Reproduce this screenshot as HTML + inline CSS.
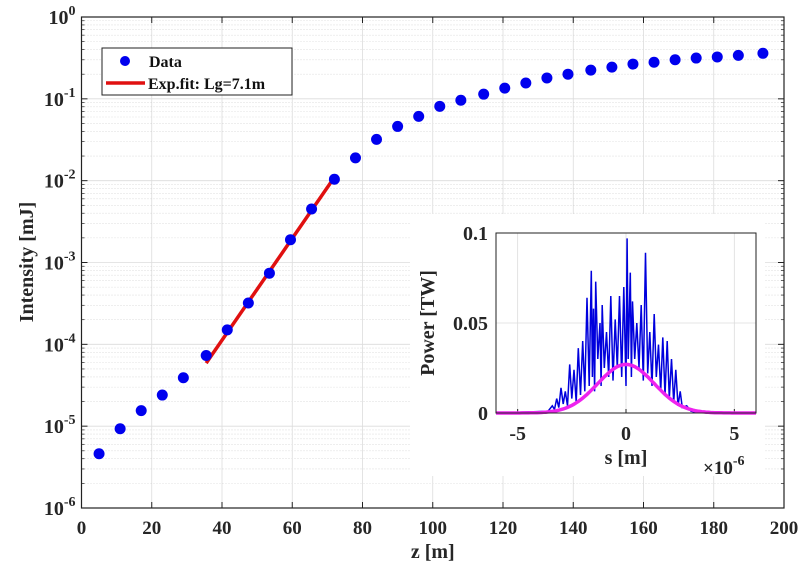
<!DOCTYPE html>
<html><head><meta charset="utf-8"><style>
html,body{margin:0;padding:0;background:#fff;}
svg{display:block;font-family:"Liberation Serif",serif;font-weight:bold;}
</style></head><body>
<svg id="c" width="805" height="575" viewBox="0 0 805 575" xmlns="http://www.w3.org/2000/svg"></svg>
<script>
const zData=[5,11,17,23,29,35.5,41.5,47.5,53.5,59.5,65.5,72,78,84,90,96,102,108,114.5,120.5,126.5,132.5,138.5,145,151,157,163,169,175,181,187,194];
const intensity=[4.6e-6,9.3e-6,1.55e-5,2.4e-5,3.9e-5,7.3e-5,1.5e-4,3.2e-4,7.4e-4,1.9e-3,4.5e-3,1.04e-2,0.019,0.032,0.046,0.061,0.081,0.096,0.114,0.135,0.156,0.18,0.20,0.224,0.244,0.266,0.28,0.30,0.315,0.325,0.34,0.36];
const fitZ=[35.5,72];
const fitI=[5.9e-5,1.1e-2];
const xTicks=[0,20,40,60,80,100,120,140,160,180,200];
const yExps=[0,-1,-2,-3,-4,-5,-6];
// inset
const sVals=[-6,-3.6,-3.4,-3.3,-3.2,-3.1,-3.0,-2.9,-2.8,-2.7,-2.6,-2.5,-2.4,-2.3,-2.2,-2.1,-2.0,-1.9,-1.8,-1.7,-1.6,-1.55,-1.5,-1.45,-1.4,-1.3,-1.2,-1.15,-1.1,-1.0,-0.9,-0.8,-0.7,-0.6,-0.5,-0.4,-0.3,-0.2,-0.1,0,0.05,0.1,0.2,0.25,0.3,0.4,0.5,0.6,0.7,0.8,0.9,1.0,1.1,1.2,1.3,1.4,1.5,1.6,1.7,1.8,1.9,2.0,2.1,2.2,2.3,2.4,2.5,2.6,2.8,3.0,3.2,6];
const pVals=[0,0.001,0.004,0.002,0.008,0.003,0.014,0.005,0.012,0.004,0.027,0.008,0.024,0.006,0.036,0.01,0.04,0.012,0.064,0.015,0.079,0.02,0.058,0.012,0.073,0.03,0.05,0.015,0.06,0.025,0.045,0.02,0.065,0.018,0.052,0.025,0.065,0.02,0.07,0.015,0.097,0.03,0.078,0.02,0.062,0.03,0.05,0.025,0.06,0.018,0.089,0.022,0.045,0.015,0.055,0.02,0.038,0.012,0.042,0.01,0.04,0.008,0.03,0.006,0.024,0.004,0.012,0.003,0.004,0.001,0.0005,0];
const gaussAmp=0.027, gaussSigma=1.3;
const sTicks=[-5,0,5];
const pTicks=[0,0.05,0.1];

const svg=document.getElementById('c');
const NS='http://www.w3.org/2000/svg';
function mk(t,a,p){const e=document.createElementNS(NS,t);for(const k in a)e.setAttribute(k,a[k]);(p||svg).appendChild(e);return e;}
const L=81.5,R=784,T=17,B=508;
const X=z=>L+(z-0)/200*(R-L);
const Y=v=>T+(0-Math.log10(v))/6*(B-T);

const g=mk('g',{});

for(let e=-6;e<0;e++){for(let m=2;m<=9;m++){const y=Y(m*Math.pow(10,e));mk('line',{x1:L,x2:R,y1:y,y2:y,stroke:'#c8c8c8','stroke-width':0.6,'stroke-dasharray':'1,2'},g);}}
yExps.forEach(e=>{const y=Y(Math.pow(10,e));mk('line',{x1:L,x2:R,y1:y,y2:y,stroke:'#dcdcdc','stroke-width':0.8},g);});
xTicks.forEach(t=>{const x=X(t);mk('line',{x1:x,x2:x,y1:T,y2:B,stroke:'#dcdcdc','stroke-width':0.8},g);});

xTicks.forEach(t=>{const x=X(t);mk('line',{x1:x,x2:x,y1:B,y2:B-6,stroke:'#222'});mk('line',{x1:x,x2:x,y1:T,y2:T+6,stroke:'#222'});
 const tx=mk('text',{x:x,y:B+26,'font-size':19,'text-anchor':'middle',fill:'#262626'});tx.textContent=t;
 });
yExps.forEach(e=>{const y=Y(Math.pow(10,e));mk('line',{x1:L,x2:L+6,y1:y,y2:y,stroke:'#222'});mk('line',{x1:R,x2:R-6,y1:y,y2:y,stroke:'#222'});
 const tx=mk('text',{x:L-6,y:y+7,'font-size':20,'text-anchor':'end',fill:'#262626'});
 tx.innerHTML='10<tspan dy="-9" font-size="14">'+e+'</tspan>';
 });
for(let e=-6;e<0;e++){for(let m=2;m<=9;m++){const y=Y(m*Math.pow(10,e));mk('line',{x1:L,x2:L+3,y1:y,y2:y,stroke:'#222','stroke-width':0.7});mk('line',{x1:R,x2:R-3,y1:y,y2:y,stroke:'#222','stroke-width':0.7});}}

const ib=mk('rect',{x:410,y:214,width:355,height:262,fill:'#fff'});


const box=mk('rect',{x:L,y:T,width:R-L,height:B-T,fill:'none',stroke:'#222','stroke-width':1.2});


const fl=mk('line',{x1:X(fitZ[0]),y1:Y(fitI[0]),x2:X(fitZ[1]),y2:Y(fitI[1]),stroke:'#e01010','stroke-width':3.5});


zData.forEach((z,i)=>{const c=mk('circle',{cx:X(z),cy:Y(intensity[i]),r:5.5,fill:'#0000ee'});
 });

const xl=mk('text',{x:(L+R)/2,y:558,'font-size':20,'text-anchor':'middle',fill:'#262626'});xl.textContent='z [m]';

const yl=mk('text',{x:0,y:0,'font-size':20,'text-anchor':'middle',fill:'#262626',transform:'translate(33,262) rotate(-90)'});yl.textContent='Intensity [mJ]';


const lg=mk('g',{});
mk('rect',{x:102,y:48,width:190,height:47,fill:'#fff',stroke:'#222','stroke-width':1},lg);
mk('circle',{cx:125,cy:61,r:5,fill:'#0000ee'},lg);
mk('line',{x1:106,x2:145,y1:83,y2:83,stroke:'#e01010','stroke-width':3.5},lg);
const t1=mk('text',{x:149,y:67,'font-size':16,fill:'#111'},lg);t1.textContent='Data';

const t2=mk('text',{x:148,y:89,'font-size':16,fill:'#111'},lg);t2.textContent='Exp.fit: Lg=7.1m';


const iL=496,iR=756,iT=233,iB=413;
const SX=s=>iL+(s+6)/12*(iR-iL);
const PY=p=>iB-p/0.1*(iB-iT);
const ig=mk('g',{});
sTicks.forEach(t=>{const x=SX(t);mk('line',{x1:x,x2:x,y1:iT,y2:iB,stroke:'#dcdcdc','stroke-width':0.8},ig);
 mk('line',{x1:x,x2:x,y1:iB,y2:iB-4,stroke:'#222'},ig);
 const tx=mk('text',{x:x,y:iB+27,'font-size':20,'text-anchor':'middle',fill:'#262626'},ig);tx.textContent=t;
 });
pTicks.forEach(t=>{const y=PY(t);mk('line',{x1:iL,x2:iR,y1:y,y2:y,stroke:'#dcdcdc','stroke-width':0.8},ig);
 const tx=mk('text',{x:iL-8,y:y+7,'font-size':20,'text-anchor':'end',fill:'#262626'},ig);tx.textContent=t;
 });
let d='';sVals.forEach((s,i)=>{d+=(i?'L':'M')+SX(s).toFixed(1)+','+PY(pVals[i]).toFixed(1);});
const pw=mk('path',{d:d,fill:'none',stroke:'#0000dd','stroke-width':1.5},ig);

let gd='';for(let k=0;k<=120;k++){const s=-6+k*0.1;const p=gaussAmp*Math.exp(-s*s/(2*gaussSigma*gaussSigma));gd+=(k?'L':'M')+SX(s).toFixed(1)+','+PY(p).toFixed(1);}
const gp=mk('path',{d:gd,fill:'none',stroke:'#ee22ee','stroke-width':3.5},ig);

mk('rect',{x:iL,y:iT,width:iR-iL,height:iB-iT,fill:'none',stroke:'#222','stroke-width':1},ig);
const ixl=mk('text',{x:626,y:464,'font-size':20,'text-anchor':'middle',fill:'#262626'});ixl.textContent='s [m]';

const ix=mk('text',{x:703,y:474,'font-size':19,fill:'#262626'});ix.innerHTML='×10<tspan dy="-9" font-size="14">-6</tspan>';

const iyl=mk('text',{x:0,y:0,'font-size':20,'text-anchor':'middle',fill:'#262626',transform:'translate(434,323) rotate(-90)'});iyl.textContent='Power [TW]';

</script>
</body></html>
